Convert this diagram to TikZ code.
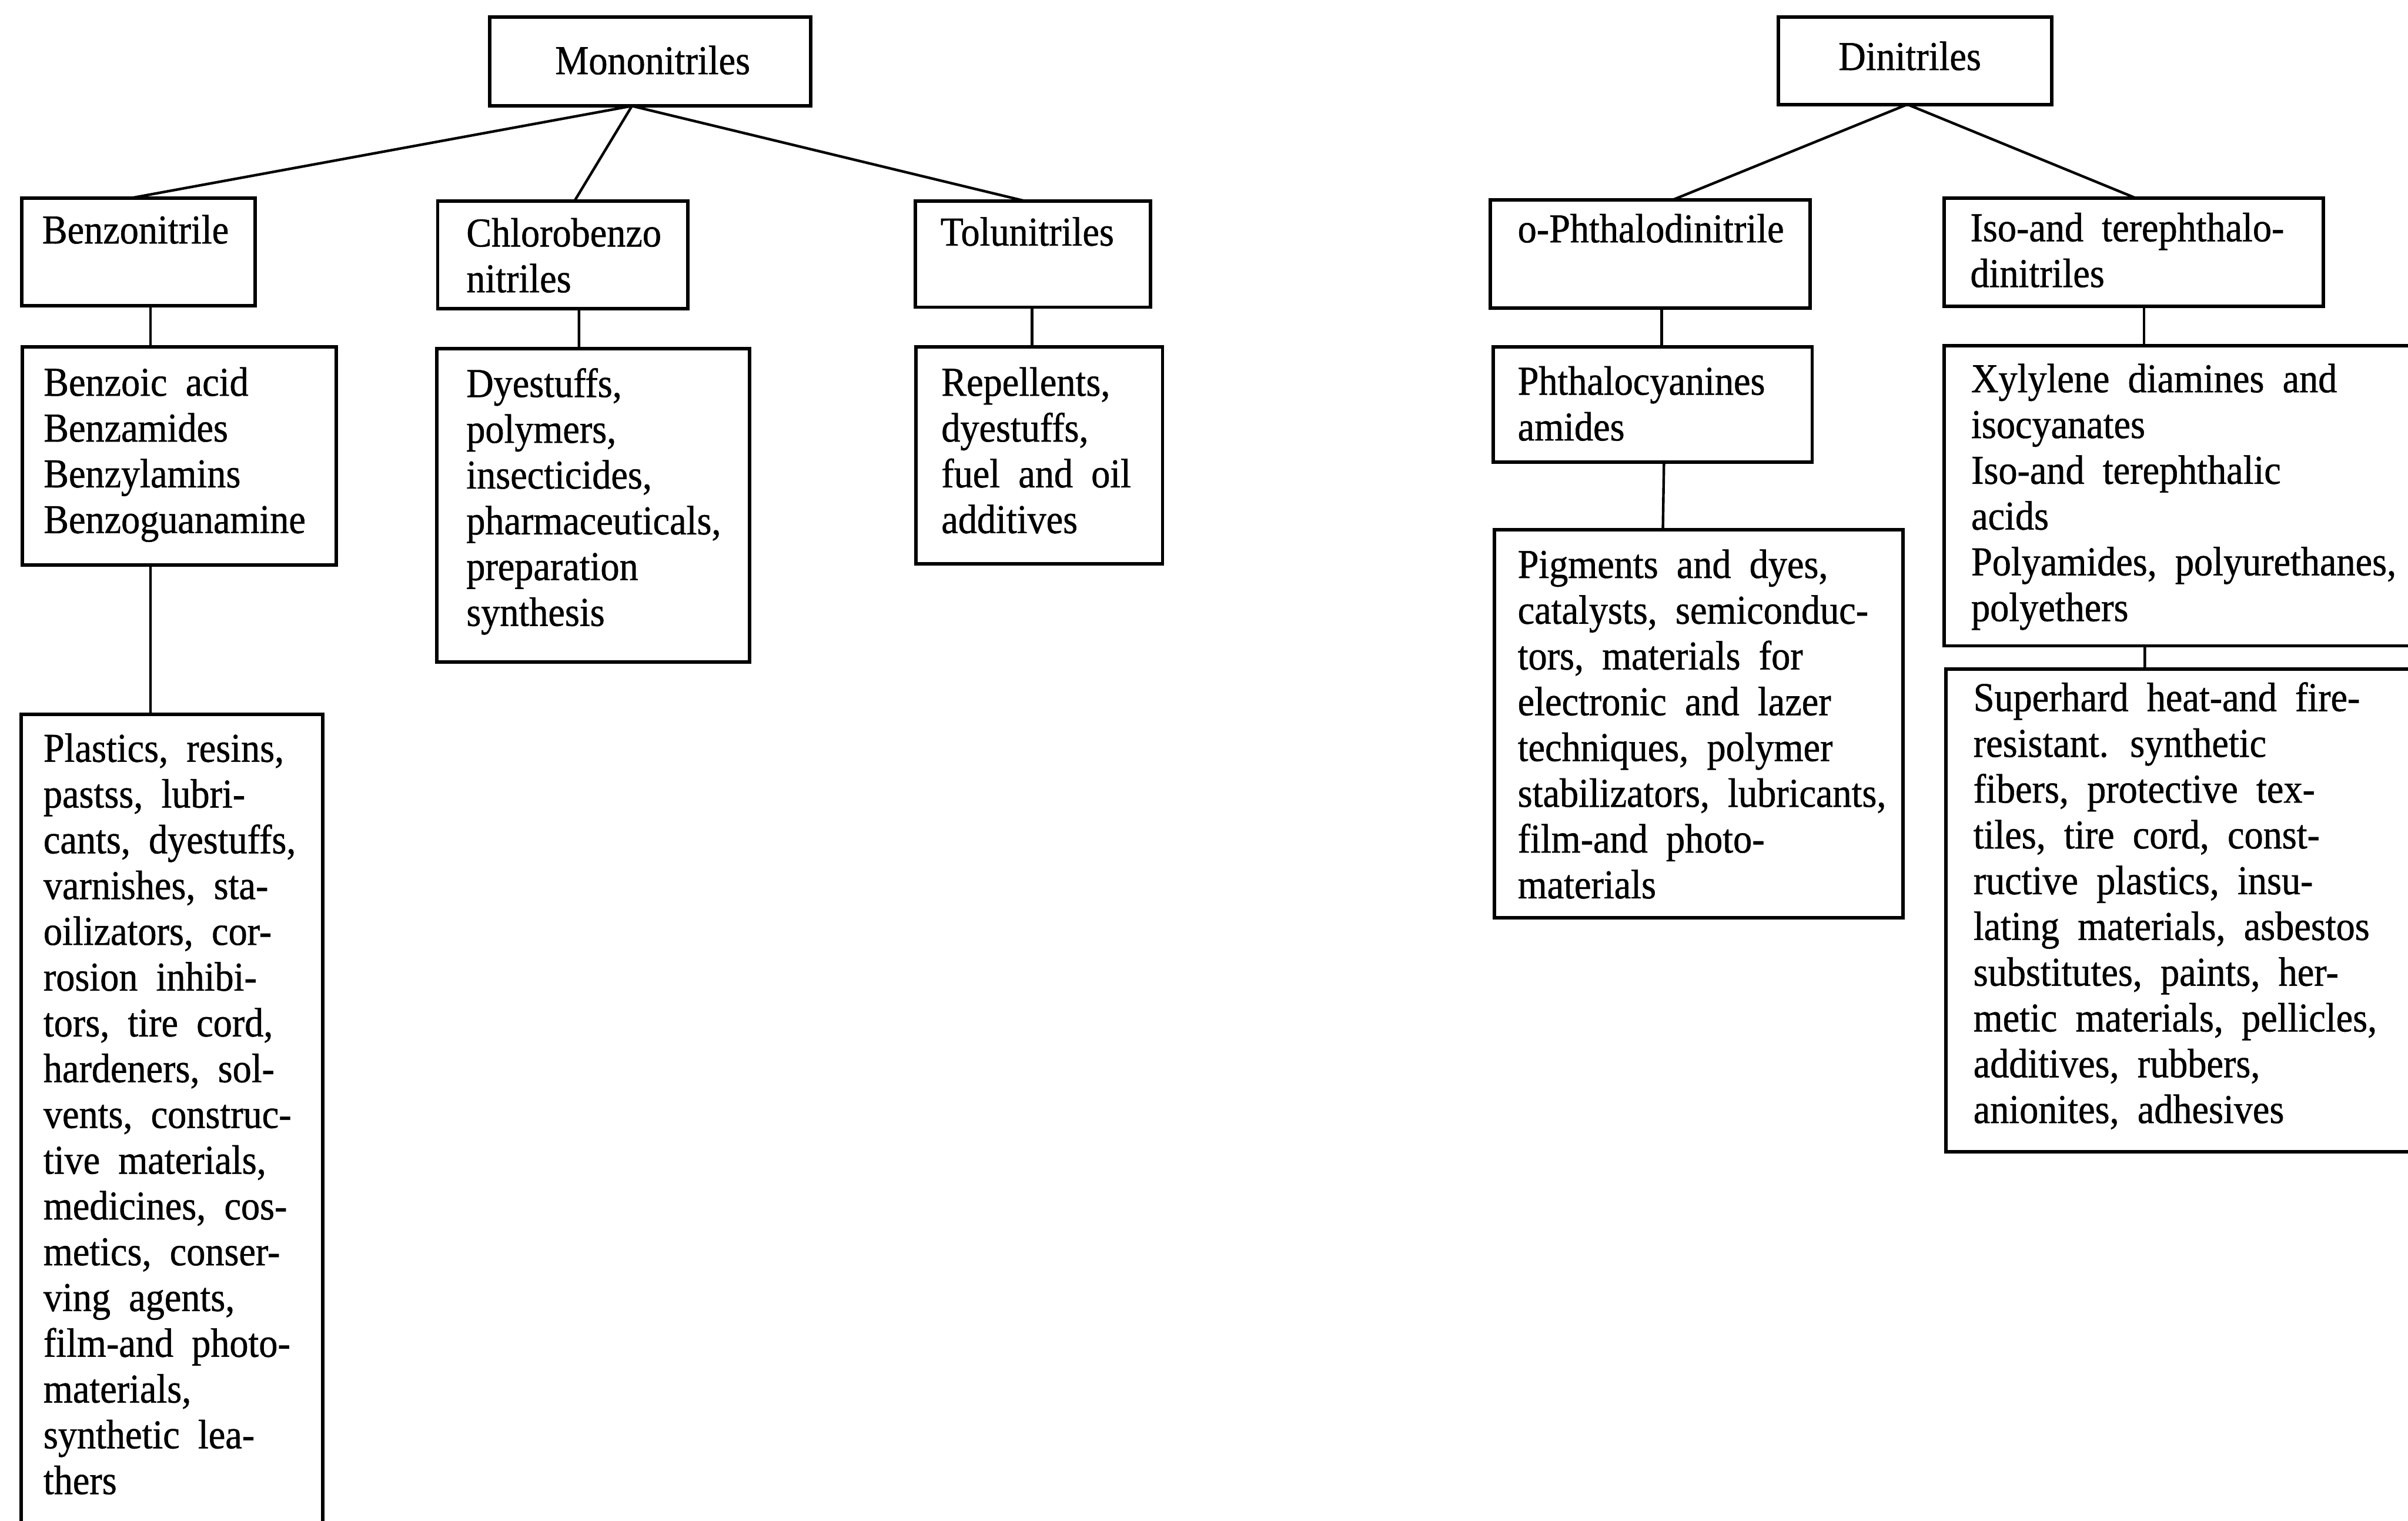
\documentclass[tikz,border=0pt]{standalone}
\usepackage{fontspec}
\setmainfont{Liberation Serif}[FakeStretch=0.92,FakeBold=0.8]
\usetikzlibrary{calc}
\newcommand\ml[1]{\hbox{#1}}
\newcommand\tb[1]{\vtop{\baselineskip=7.45mm\lineskiplimit=-100pt\lineskip=0pt\spaceskip=8.5pt\relax #1}}
\tikzset{
  boxst/.style={draw, line width=1.6pt, inner sep=0pt, outer sep=0pt, anchor=north west},
  txt/.style={inner sep=0pt, outer sep=0pt, anchor=base west},
  ctxt/.style={inner sep=0pt, outer sep=0pt, anchor=base},
  link/.style={line width=1.2pt},
}
\newcommand\bx[5]{\node[boxst, minimum width={(#4-#2)*0.25mm}, minimum height={(#5-#3)*0.25mm}] (#1) at (#2,#3) {};}
\begin{document}
\begin{tikzpicture}[x=0.25mm,y=-0.25mm,font=\fontsize{19}{21.3}\selectfont]
\useasboundingbox (0,0) rectangle (1568,990);
\clip (0,0) rectangle (1568,990);
% boxes
\bx{mono}{319}{11}{528}{69}
\bx{dini}{1158}{11}{1336}{68}
\bx{benz}{14}{129}{166}{199}
\bx{chloro}{285}{131}{448}{201}
\bx{tolu}{596}{131}{749}{200}
\bx{ophth}{970.5}{130}{1178.5}{200.5}
\bx{iso}{1265.8}{129}{1512.8}{199.3}
\bx{benzoic}{14.5}{226}{219}{368}
\bx{dyes}{284.3}{227}{488}{431}
\bx{repel}{596.5}{226}{757}{367}
\bx{phthal}{972.5}{226}{1180}{301}
\bx{xyl}{1265.8}{225}{1590}{420.5}
\bx{pigm}{973}{345}{1239}{597.5}
\bx{super}{1267}{435.5}{1590}{750}
\bx{plast}{13.8}{465}{210}{1010}
% texts
\node[ctxt] (tmono) at (425,48.3) {Mononitriles};
\node[ctxt] (tdini) at (1243.6,45.6) {Dinitriles};
\node[txt] (tbenz) at (27.5,158.5) {\tb{\ml{Benzonitrile}}};
\node[txt] (tchloro) at (303.7,160.5) {\tb{\ml{Chlorobenzo}\ml{nitriles}}};
\node[txt] (ttolu) at (612.4,159.9) {\tb{\ml{Tolunitriles}}};
\node[txt] (tophth) at (988.3,157.8) {\tb{\ml{o-Phthalodinitrile}}};
\node[txt] (tiso) at (1283,157.1) {\tb{\ml{Iso-and terephthalo-}\ml{dinitriles}}};
\node[txt] (tbenzoic) at (28.4,257.7) {\tb{\ml{Benzoic acid}\ml{Benzamides}\ml{Benzylamins}\ml{Benzoguanamine}}};
\node[txt] (tdyes) at (303.7,258.5) {\tb{\ml{Dyestuffs,}\ml{polymers,}\ml{insecticides,}\ml{pharmaceuticals,}\ml{preparation}\ml{synthesis}}};
\node[txt] (trepel) at (613,257.7) {\tb{\ml{Repellents,}\ml{dyestuffs,}\ml{fuel and oil}\ml{additives}}};
\node[txt] (tphthal) at (988.3,257) {\tb{\ml{Phthalocyanines}\ml{amides}}};
\node[txt] (txyl) at (1283.6,255.4) {\tb{\ml{Xylylene diamines and}\ml{isocyanates}\ml{Iso-and terephthalic}\ml{acids}\ml{Polyamides, polyurethanes,}\ml{polyethers}}};
\node[txt] (tpigm) at (988.3,376.3) {\tb{\ml{Pigments and dyes,}\ml{catalysts, semiconduc-}\ml{tors, materials for}\ml{electronic and lazer}\ml{techniques, polymer}\ml{stabilizators, lubricants,}\ml{film-and photo-}\ml{materials}}};
\node[txt] (tsuper) at (1285,463) {\tb{\ml{Superhard heat-and fire-}\ml{resistant. synthetic}\ml{fibers, protective tex-}\ml{tiles, tire cord, const-}\ml{ructive plastics, insu-}\ml{lating materials, asbestos}\ml{substitutes, paints, her-}\ml{metic materials, pellicles,}\ml{additives, rubbers,}\ml{anionites, adhesives}}};
\node[txt] (tplast) at (28.3,496) {\tb{\ml{Plastics, resins,}\ml{pastss, lubri-}\ml{cants, dyestuffs,}\ml{varnishes, sta-}\ml{oilizators, cor-}\ml{rosion inhibi-}\ml{tors, tire cord,}\ml{hardeners, sol-}\ml{vents, construc-}\ml{tive materials,}\ml{medicines, cos-}\ml{metics, conser-}\ml{ving agents,}\ml{film-and photo-}\ml{materials,}\ml{synthetic lea-}\ml{thers}}};
% connectors
\coordinate (ma) at ($(mono.south west)+(92.5,0)$);
\coordinate (da) at ($(dini.south west)+(84,0)$);
\draw[link] (ma) -- ($(benz.north west)+(71,0)$);
\draw[link] (ma) -- ($(chloro.north west)+(89,0)$);
\draw[link] (ma) -- ($(tolu.north west)+(72,0)$);
\draw[link] (da) -- ($(ophth.north west)+(119,0)$);
\draw[link] (da) -- ($(iso.north west)+(125,0)$);
\draw[link] ($(benz.south west)+(84,0)$) -- ($(benzoic.north west)+(83.5,0)$);
\draw[link] ($(chloro.south west)+(92,0)$) -- ($(dyes.north west)+(92.7,0)$);
\draw[link] ($(tolu.south west)+(76,0)$) -- ($(repel.north west)+(75.5,0)$);
\draw[link] ($(ophth.south west)+(111.5,0)$) -- ($(phthal.north west)+(109.5,0)$);
\draw[link] ($(iso.south west)+(130.2,0)$) -- ($(xyl.north west)+(130.2,0)$);
\draw[link] ($(benzoic.south west)+(83.5,0)$) -- ($(plast.north west)+(84.2,0)$);
\draw[link] ($(phthal.south west)+(111,0)$) -- ($(pigm.north west)+(109.8,0)$);
\draw[link] ($(xyl.south west)+(130.8,0)$) -- ($(super.north west)+(129.6,0)$);
\end{tikzpicture}
\end{document}
